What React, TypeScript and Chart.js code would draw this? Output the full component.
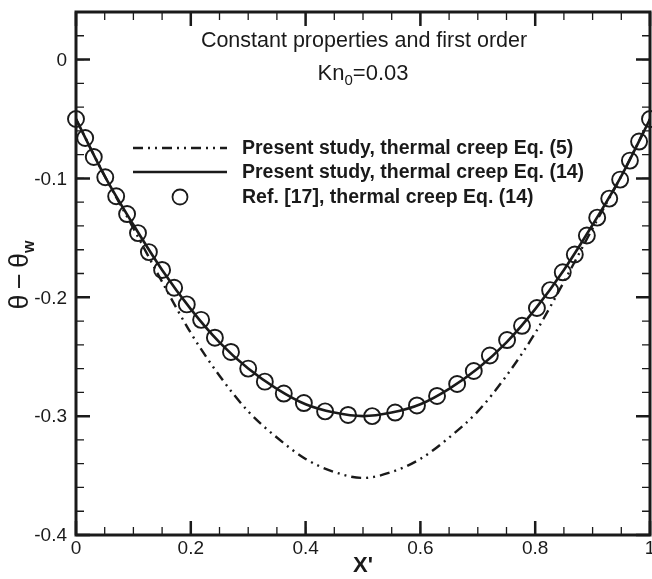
import React, { useEffect, useRef } from "react";
import { Chart, registerables } from "chart.js";

Chart.register(...registerables);

// ---- data ----
const lineX = [0, 0.05, 0.1, 0.15, 0.2, 0.25, 0.3, 0.35, 0.4, 0.45, 0.5, 0.55, 0.6, 0.65, 0.7, 0.75, 0.8, 0.85, 0.9, 0.95, 1];
const eq5Y = [-0.05, -0.098, -0.142, -0.187, -0.23, -0.266, -0.296, -0.318, -0.336, -0.347, -0.352, -0.347, -0.336, -0.318, -0.296, -0.266, -0.23, -0.187, -0.142, -0.098, -0.05];
const eq14Y = [-0.05, -0.098, -0.139, -0.177, -0.21, -0.238, -0.26, -0.277, -0.29, -0.297, -0.3, -0.297, -0.29, -0.277, -0.26, -0.238, -0.21, -0.177, -0.139, -0.098, -0.05];
const refX = [0, 0.016, 0.031, 0.051, 0.07, 0.089, 0.108, 0.127, 0.15, 0.171, 0.193, 0.218, 0.242, 0.27, 0.3, 0.329, 0.362, 0.397, 0.434, 0.474, 0.516, 0.556, 0.594, 0.629, 0.664, 0.693, 0.721, 0.751, 0.777, 0.803, 0.826, 0.848, 0.869, 0.89, 0.908, 0.929, 0.948, 0.965, 0.981, 1.0];
const refY = [-0.05, -0.066, -0.082, -0.099, -0.115, -0.13, -0.146, -0.162, -0.177, -0.192, -0.206, -0.219, -0.234, -0.246, -0.26, -0.271, -0.281, -0.289, -0.296, -0.299, -0.3, -0.297, -0.291, -0.283, -0.273, -0.262, -0.249, -0.236, -0.224, -0.209, -0.194, -0.179, -0.164, -0.148, -0.133, -0.117, -0.101, -0.085, -0.069, -0.05];
const xTicks = [0, 0.2, 0.4, 0.6, 0.8, 1];
const xTickLabels = ["0", "0.2", "0.4", "0.6", "0.8", "1"];
const yTicks = [-0.4, -0.3, -0.2, -0.1, 0];
const yTickLabels = ["-0.4", "-0.3", "-0.2", "-0.1", "0"];
const xMinorStep = 0.05;
const yMinorStep = 0.02;
const legendLabels = [
  "Present study, thermal creep Eq. (5)",
  "Present study, thermal creep Eq. (14)",
  "Ref. [17], thermal creep Eq. (14)",
];
const titleLine1 = "Constant properties and first order";

const FONT = "'Liberation Sans', Arial, Helvetica, sans-serif";
const INK = "#1a1a1a";
const DASH = [10, 5, 2, 5, 2, 5];

const decor = {
  id: "decor",
  afterDraw(chart: any) {
    const ctx = chart.ctx as CanvasRenderingContext2D;
    const a = chart.chartArea;
    const xs = chart.scales.x;
    const ys = chart.scales.y;
    ctx.save();
    ctx.strokeStyle = INK;
    // minor ticks
    ctx.lineWidth = 1.3;
    for (let v = xs.min; v <= xs.max + 1e-9; v += xMinorStep) {
      const px = xs.getPixelForValue(v);
      ctx.beginPath();
      ctx.moveTo(px, a.bottom); ctx.lineTo(px, a.bottom - 8);
      ctx.moveTo(px, a.top); ctx.lineTo(px, a.top + 8);
      ctx.stroke();
    }
    for (let v = ys.min; v <= ys.max + 1e-9; v += yMinorStep) {
      const py = ys.getPixelForValue(v);
      ctx.beginPath();
      ctx.moveTo(a.left, py); ctx.lineTo(a.left + 8, py);
      ctx.moveTo(a.right, py); ctx.lineTo(a.right - 8, py);
      ctx.stroke();
    }
    // major ticks
    ctx.lineWidth = 2.5;
    xTicks.forEach((v) => {
      const px = xs.getPixelForValue(v);
      ctx.beginPath();
      ctx.moveTo(px, a.bottom); ctx.lineTo(px, a.bottom - 14);
      ctx.moveTo(px, a.top); ctx.lineTo(px, a.top + 14);
      ctx.stroke();
    });
    yTicks.forEach((v) => {
      const py = ys.getPixelForValue(v);
      ctx.beginPath();
      ctx.moveTo(a.left, py); ctx.lineTo(a.left + 14, py);
      ctx.moveTo(a.right, py); ctx.lineTo(a.right - 14, py);
      ctx.stroke();
    });
    // frame
    ctx.lineWidth = 3;
    ctx.strokeRect(a.left, a.top, a.right - a.left, a.bottom - a.top);

    // tick labels
    ctx.fillStyle = INK;
    ctx.font = `19px ${FONT}`;
    ctx.textBaseline = "middle";
    ctx.textAlign = "center";
    xTicks.forEach((v, i) => ctx.fillText(xTickLabels[i], xs.getPixelForValue(v), a.bottom + 14));
    ctx.textAlign = "right";
    yTicks.forEach((v, i) => ctx.fillText(yTickLabels[i], a.left - 9, ys.getPixelForValue(v) + 1));

    const cx = (a.left + a.right) / 2;
    // titles
    ctx.textAlign = "center";
    ctx.font = `21.5px ${FONT}`;
    ctx.fillText(titleLine1, cx + 1, 41);
    // Kn0=0.03
    const f1 = `22px ${FONT}`;
    const f2 = `15px ${FONT}`;
    ctx.font = f1;
    const wKn = ctx.measureText("Kn").width;
    const wRest = ctx.measureText("=0.03").width;
    ctx.font = f2;
    const wSub = ctx.measureText("0").width;
    const x0 = cx - (wKn + wSub + wRest) / 2;
    ctx.textAlign = "left";
    ctx.font = f1;
    ctx.fillText("Kn", x0, 74);
    ctx.font = f2;
    ctx.fillText("0", x0 + wKn, 81);
    ctx.font = f1;
    ctx.fillText("=0.03", x0 + wKn + wSub, 74);

    // legend
    const rows = [148, 172, 197];
    const lx0 = 133, lx1 = 227, tx = 242;
    ctx.lineWidth = 2.4;
    ctx.setLineDash(DASH);
    ctx.beginPath(); ctx.moveTo(lx0, rows[0]); ctx.lineTo(lx1, rows[0]); ctx.stroke();
    ctx.setLineDash([]);
    ctx.beginPath(); ctx.moveTo(lx0, rows[1]); ctx.lineTo(lx1, rows[1]); ctx.stroke();
    ctx.lineWidth = 1.8;
    ctx.beginPath(); ctx.arc((lx0 + lx1) / 2, rows[2], 7.5, 0, Math.PI * 2); ctx.stroke();
    ctx.font = `bold 19.5px ${FONT}`;
    legendLabels.forEach((t, i) => ctx.fillText(t, tx, rows[i] + 1));

    // x label
    ctx.textAlign = "center";
    ctx.font = `bold 22px ${FONT}`;
    ctx.fillText("X'", cx, 566);

    // y label
    ctx.translate(21, 275);
    ctx.rotate(-Math.PI / 2);
    const fm = `27px ${FONT}`;
    const fs = `bold 16px ${FONT}`;
    const main = "\u03B8\u2009\u2212\u2009\u03B8";
    ctx.font = fm;
    const wm = ctx.measureText(main).width;
    ctx.font = fs;
    const ww = ctx.measureText("w").width;
    const sx = -(wm + ww) / 2;
    ctx.textAlign = "left";
    ctx.font = fm;
    ctx.fillText(main, sx, 0);
    ctx.font = fs;
    ctx.fillText("w", sx + wm, 9);
    ctx.restore();
  },
};

export default function App() {
  const ref = useRef<HTMLCanvasElement | null>(null);
  useEffect(() => {
    document.body.style.margin = "0";
    document.body.style.overflow = "hidden";
    const canvas = ref.current!;
    const chart = new Chart(canvas, {
      type: "line",
      data: {
        datasets: [
          {
            label: legendLabels[0],
            data: lineX.map((x, i) => ({ x, y: eq5Y[i] })),
            borderColor: INK,
            borderWidth: 2.4,
            borderDash: DASH,
            pointRadius: 0,
            cubicInterpolationMode: "monotone",
            fill: false,
          },
          {
            label: legendLabels[1],
            data: lineX.map((x, i) => ({ x, y: eq14Y[i] })),
            borderColor: INK,
            borderWidth: 2.6,
            pointRadius: 0,
            cubicInterpolationMode: "monotone",
            fill: false,
          },
          {
            label: legendLabels[2],
            data: refX.map((x, i) => ({ x, y: refY[i] })),
            showLine: false,
            pointStyle: "circle",
            pointRadius: 8,
            pointBorderWidth: 1.9,
            pointBorderColor: INK,
            pointBackgroundColor: "rgba(0,0,0,0)",
            borderColor: INK,
            backgroundColor: "rgba(0,0,0,0)",
            clip: false as any,
          },
        ],
      },
      options: {
        animation: false,
        responsive: false,
        maintainAspectRatio: false,
        layout: { autoPadding: false, padding: { top: 12, right: 2, left: 0, bottom: 0 } },
        plugins: { legend: { display: false }, tooltip: { enabled: false }, title: { display: false } },
        scales: {
          x: {
            type: "linear",
            min: 0,
            max: 1,
            grid: { display: false, drawTicks: false },
            border: { display: false },
            ticks: { display: false },
            afterFit: (s: any) => { s.height = 44; },
          },
          y: {
            type: "linear",
            min: -0.4,
            max: 0.04,
            grid: { display: false, drawTicks: false },
            border: { display: false },
            ticks: { display: false },
            afterFit: (s: any) => { s.width = 76; },
          },
        },
      },
      plugins: [decor],
    });
    return () => chart.destroy();
  }, []);
  return (
    <div style={{ width: 652, height: 579 }}>
      <canvas ref={ref} width={652} height={579} style={{ display: "block", width: 652, height: 579 }} />
    </div>
  );
}
